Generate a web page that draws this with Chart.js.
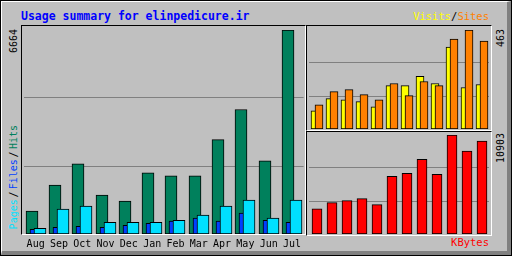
<!DOCTYPE html>
<html>
<head>
<meta charset="utf-8">
<script src="https://cdn.jsdelivr.net/npm/chart.js@4"></script>
<style>
  body { margin: 0; background: #c0c0c0; }
  #frame { position: absolute; left: 0; top: 0; width: 512px; height: 256px; box-sizing: border-box;
           border: 1px solid #000; background: #c0c0c0; font-family: 'DejaVu Sans Mono', monospace; }
  #bevel { position: absolute; left: 0; top: 0; width: 510px; height: 254px; box-sizing: border-box;
           border-top: 1px solid #fff; border-left: 1px solid #fff;
           border-right: 4px solid #808080; border-bottom: 4px solid #808080; }
  .panel { position: absolute; box-sizing: content-box; background: #c0c0c0;
           border-top: 1px solid #000; border-left: 1px solid #000;
           border-right: 1px solid #fff; border-bottom: 1px solid #fff; }
  .txt { position: absolute; white-space: pre; }
  .vert { position: absolute; writing-mode: vertical-rl; transform: rotate(180deg); white-space: pre;
          font-size: 10px; line-height: 10px; }
  .sep { margin: 2px 0; }
  canvas { position: absolute; }
</style>
</head>
<body>
<div id="frame">
  <div id="bevel"></div>
  <div class="panel" style="left:20px; top:24px; width:283px; height:208px;"></div>
  <div class="panel" style="left:305px; top:24px; width:184px; height:104px;"></div>
  <div class="panel" style="left:305px; top:130px; width:184px; height:103px;"></div>

  <div class="txt" style="left:20px; top:8px; font-size:11.5px; line-height:14px; font-weight:bold; color:#0000ff;">Usage summary for elinpedicure.ir</div>
  <div class="txt" style="right:22px; top:9px; font-size:10.5px; line-height:13px;"><span style="color:#ffff00">Visits</span>/<span style="color:#ff8000">Sites</span></div>
  <div class="txt" style="right:22px; top:235px; font-size:10.5px; line-height:13px; color:#ff0000;">KBytes</div>

  <div class="vert" id="maxHits" style="left:8px; top:28px;"></div>
  <div class="vert" style="left:8px; top:124px;"><span style="color:#00e0ff">Pages</span><span class="sep">/</span><span style="color:#0040ff">Files</span><span class="sep">/</span><span style="color:#00805c">Hits</span></div>
  <div class="vert" id="maxSites" style="left:495px; top:28px;"></div>
  <div class="vert" id="maxKB" style="left:495px; top:132px;"></div>

  <canvas id="main" width="283" height="227" style="left:21px; top:25px;"></canvas>
  <canvas id="visits" width="184" height="104" style="left:306px; top:25px;"></canvas>
  <canvas id="kbytes" width="184" height="103" style="left:306px; top:131px;"></canvas>
</div>

<script>
const months = ['Aug', 'Sep', 'Oct', 'Nov', 'Dec', 'Jan', 'Feb', 'Mar', 'Apr', 'May', 'Jun', 'Jul'];
const hits   = [745, 1601, 2292, 1272, 1075, 1996, 1897, 1897, 3081, 4067, 2390, 6664];
const files  = [155, 220, 253, 220, 286, 352, 418, 516, 418, 681, 450, 385];
const pages  = [187, 812, 911, 385, 385, 385, 450, 615, 911, 1108, 516, 1108];
const visits = [85, 142, 137, 128, 104, 203, 203, 246, 213, 383, 194, 208];
const sites  = [113, 175, 184, 161, 137, 213, 156, 222, 203, 420, 463, 411];
const kbytes = [2782, 3450, 3673, 3895, 3227, 6344, 6678, 8236, 6567, 10903, 9126, 10240];

const maxHits = Math.max(...hits);
const maxSites = Math.max(...visits, ...sites);
const maxKB = Math.max(...kbytes);

document.getElementById('maxHits').textContent = maxHits;
document.getElementById('maxSites').textContent = maxSites;
document.getElementById('maxKB').textContent = maxKB;

// move each dataset's bars sideways so they overlap like the webalizer bars
const shiftBars = {
    id: 'shiftBars',
    afterDatasetsUpdate(chart) {
        chart.data.datasets.forEach((ds, i) => {
            chart.getDatasetMeta(i).data.forEach(bar => {
                bar.x = Math.round(bar.x + (ds.shift || 0));
            });
        });
    }
};

function bar(data, color, width, shift, order) {
    return {
        data: data,
        backgroundColor: color,
        borderColor: '#000000',
        borderWidth: 1,
        borderSkipped: false,
        barThickness: width,
        shift: shift,
        order: order
    };
}

function yScale(max) {
    return {
        min: 0,
        max: max,
        ticks: { display: false },
        border: { display: false },
        grid: { color: '#808080', lineWidth: 1, drawTicks: false },
        afterBuildTicks: s => { s.ticks = [{ value: max / 3 }, { value: max * 2 / 3 }]; },
        afterFit: s => { s.width = 0; }
    };
}

function baseOptions(max, padding, showMonths) {
    const x = {
        display: showMonths,
        grid: { display: false, drawTicks: false },
        border: { display: false },
        ticks: { color: '#000000', font: { family: 'DejaVu Sans Mono', size: 10 }, padding: 4, maxRotation: 0, autoSkip: false }
    };
    if (showMonths) x.afterFit = s => { s.height = 19; };
    return {
        responsive: false,
        animation: false,
        events: [],
        layout: { padding: padding },
        datasets: { bar: { grouped: false } },
        plugins: { legend: { display: false }, tooltip: { enabled: false } },
        scales: { x: x, y: yScale(max) }
    };
}

new Chart(document.getElementById('main'), {
    type: 'bar',
    data: {
        labels: months,
        datasets: [
            bar(hits, '#00805c', 12, -4, 3),
            bar(files, '#0040ff', 12, 0, 2),
            bar(pages, '#00e0ff', 12, 4, 1)
        ]
    },
    options: baseOptions(maxHits, { top: 4, left: 2, right: 0, bottom: 0 }, true),
    plugins: [shiftBars]
});

new Chart(document.getElementById('visits'), {
    type: 'bar',
    data: {
        labels: months,
        datasets: [
            bar(visits, '#ffff00', 8, -2, 2),
            bar(sites, '#ff8000', 8, 2, 1)
        ]
    },
    options: baseOptions(maxSites, { top: 4, left: 2, right: 2, bottom: 1 }, false),
    plugins: [shiftBars]
});

new Chart(document.getElementById('kbytes'), {
    type: 'bar',
    data: {
        labels: months,
        datasets: [
            bar(kbytes, '#ff0000', 10, 0, 1)
        ]
    },
    options: baseOptions(maxKB, { top: 3, left: 2, right: 2, bottom: 1 }, false),
    plugins: [shiftBars]
});
</script>
</body>
</html>
